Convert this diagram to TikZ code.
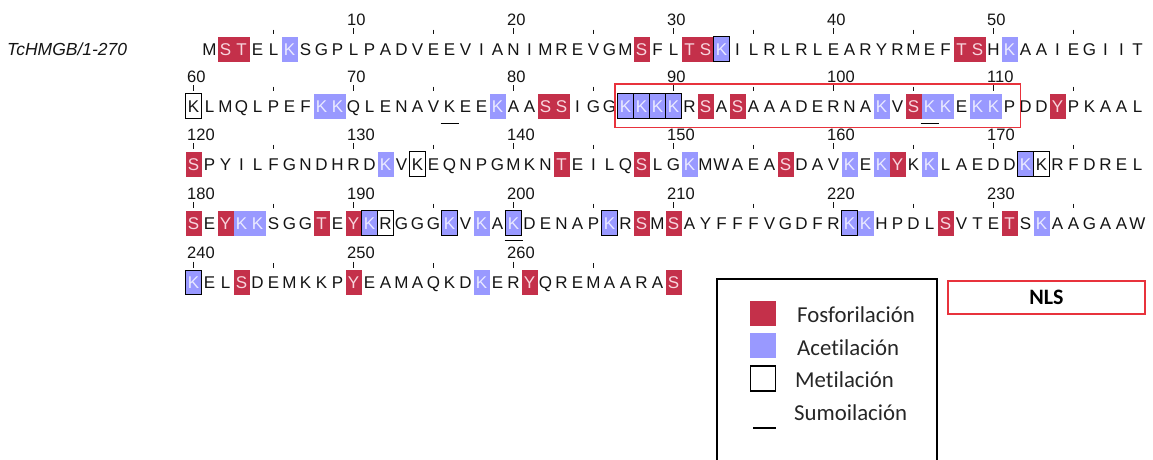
\documentclass[tikz,border=0pt]{standalone}
\usepackage{fontspec}
\setmainfont{Liberation Sans}
\newfontfamily\legfont[Ligatures={NoCommon}]{Carlito}
\definecolor{phos}{RGB}{196,48,74}
\definecolor{acet}{RGB}{153,153,255}
\definecolor{phostxt}{RGB}{248,214,222}
\definecolor{acettxt}{RGB}{234,234,255}
\definecolor{nlsred}{RGB}{232,50,60}
\definecolor{seqtxt}{RGB}{20,20,20}
\tikzset{
  res/.style={inner sep=0pt, minimum width=16pt, minimum height=25pt,
    text height=12.2pt, text depth=0pt, text=seqtxt,
    font=\fontsize{17}{17}\selectfont},
  phosres/.style={fill=phos, text=phostxt},
  acetres/.style={fill=acet, text=acettxt},
  modstyle/.code={\ifcsname sty#1\endcsname
      \edef\tmpsty{\noexpand\pgfkeysalso{\csname sty#1\endcsname}}\tmpsty\fi},
  numlab/.style={inner sep=0pt, anchor=base west, text=seqtxt,
    font=\fontsize{16.5}{16.5}\selectfont},
  tickline/.style={line width=0.9pt, draw=seqtxt},
  metil/.style={draw=black, line width=1.3pt},
  sumo/.style={draw=black, line width=1.3pt},
  nlsbox/.style={draw=nlsred, line width=1.4pt},
  legbox/.style={draw=black, line width=1.3pt},
  legsq/.style={minimum width=26pt, minimum height=25pt, inner sep=0pt},
  legtxt/.style={anchor=west, inner sep=0pt, font=\legfont\fontsize{22.8}{22.8}\selectfont, text=black!85}
}
\begin{document}
\begin{tikzpicture}[x=1pt, y=-1pt]
\useasboundingbox (0,0) rectangle (1153,459);
\clip (0,0) rectangle (1153,459);
% modification lists
\foreach \n in {6,33,51,68,69,79,87,88,89,90,103,106,107,109,110,132,151,161,163,166,172,183,184,191,196,198,200,206,221,222,233,240,258}
  {\expandafter\xdef\csname sty\n\endcsname{acetres}}
\foreach \n in {2,3,28,31,32,48,49,82,83,92,94,105,114,120,143,148,157,164,180,182,188,190,208,210,227,231,243,250,261,270}
  {\expandafter\xdef\csname sty\n\endcsname{phosres}}
% row label
\node[anchor=west, inner sep=0pt, text=seqtxt, font=\itshape\fontsize{17.5}{17.5}\selectfont] (lab) at (7,49) {TcHMGB/1-270};
% residues
\foreach \aa [count=\i] in {M,S,T,E,L,K,S,G,P,L,P,A,D,V,E,E,V,I,A,N,I,M,R,E,V,G,M,S,F,L,T,S,K,I,L,R,L,R,L,E,A,R,Y,R,M,E,F,T,S,H,K,A,A,I,E,G,I,I,T,
K,L,M,Q,L,P,E,F,K,K,Q,L,E,N,A,V,K,E,E,K,A,A,S,S,I,G,G,K,K,K,K,R,S,A,S,A,A,A,D,E,R,N,A,K,V,S,K,K,E,K,K,P,D,D,Y,P,K,A,A,L,
S,P,Y,I,L,F,G,N,D,H,R,D,K,V,K,E,Q,N,P,G,M,K,N,T,E,I,L,Q,S,L,G,K,M,W,A,E,A,S,D,A,V,K,E,K,Y,K,K,L,A,E,D,D,K,K,R,F,D,R,E,L,
S,E,Y,K,K,S,G,G,T,E,Y,K,R,G,G,G,K,V,K,A,K,D,E,N,A,P,K,R,S,M,S,A,Y,F,F,F,V,G,D,F,R,K,K,H,P,D,L,S,V,T,E,T,S,K,A,A,G,A,A,W,
K,E,L,S,D,E,M,K,K,P,Y,E,A,M,A,Q,K,D,K,E,R,Y,Q,R,E,M,A,A,R,A,S}
{
  \pgfmathtruncatemacro\rw{floor((\i+0.5)/60)}
  \pgfmathtruncatemacro\cl{\i-60*\rw}
  \edef\yy{\ifcase\rw\space 49\or 106\or 164\or 223\or 282.5\fi}
  \node[res, modstyle=\i] (r\i) at ({193.5+16*\cl},\yy) {\aa};
}
% ticks
\foreach \p in {5,10,...,265}{
  \pgfmathtruncatemacro\rw{floor((\p+0.5)/60)}
  \pgfmathtruncatemacro\cl{\p-60*\rw}
  \pgfmathtruncatemacro\ten{mod(\p,10)==0 ? 1 : 0}
  \edef\yy{\ifcase\rw\space 49\or 106\or 164\or 223\or 282.5\fi}
  \ifnum\ten=1
    \draw[tickline] ({193.5+16*\cl},{\yy-21}) -- ({193.5+16*\cl},{\yy-15});
  \else
    \draw[tickline] ({193.5+16*\cl},{\yy-19.5}) -- ({193.5+16*\cl},{\yy-15});
  \fi
}
% numbers
\foreach \p in {10,20,...,260}{
  \pgfmathtruncatemacro\rw{floor((\p+0.5)/60)}
  \pgfmathtruncatemacro\cl{\p-60*\rw}
  \edef\yy{\ifcase\rw\space 49\or 106\or 164\or 223\or 282.5\fi}
  \node[numlab] (n\p) at ({193.5+16*\cl-6.5},{\yy-24}) {\p};
}
% methylation boxes
\foreach \n in {33,60,87,88,89,90,134,172,173,191,192,196,200,206,221,240}
  \draw[metil] ([shift={(0.5pt,-0.5pt)}]r\n.north west) rectangle ([shift={(-0.5pt,0.5pt)}]r\n.south east);
% sumoylation
\foreach \n in {76,106,200}
  \draw[sumo] ([shift={(-9pt,-4.5pt)}]r\n.south) -- ([shift={(9pt,-4.5pt)}]r\n.south);
% NLS region
\draw[nlsbox] ([shift={(-2.5pt,9.5pt)}]r87.north west) rectangle ([shift={(2.5pt,-8.5pt)}]r111.south east);
% legend
\draw[legbox] (717,279) rectangle (937,480);
\node[legsq, fill=phos] (lphos) at (763,313) {};
\node[legsq, fill=acet] (lacet) at (763,345) {};
\node[legsq, draw=black, line width=1.3pt, minimum width=25pt] (lmet) at (763,378.5) {};
\coordinate (lsumoA) at (753,428);
\coordinate (lsumoB) at (776,428);
\draw[sumo, line width=1.2pt] (lsumoA) -- (lsumoB);
\node[legtxt] (tphos) at (797,315) {Fosforilación};
\node[legtxt] (tacet) at (797,348) {Acetilación};
\node[legtxt] (tmet) at (795,380) {Metilación};
\node[legtxt] (tsumo) at (794,413) {Sumoilación};
\node[nlsbox, minimum width=197pt, minimum height=33pt, inner sep=0pt,
  font=\legfont\bfseries\fontsize{22}{22}\selectfont] (nls) at (1046.5,297.5) {NLS};
\end{tikzpicture}
\end{document}
